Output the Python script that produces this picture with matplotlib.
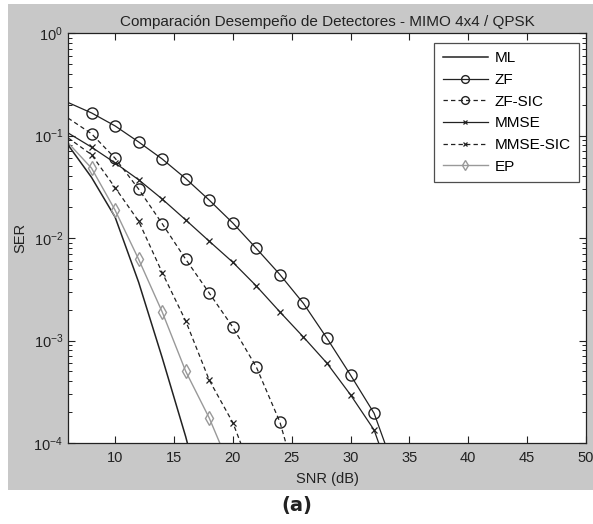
import matplotlib
matplotlib.use("Agg")
import matplotlib.pyplot as plt
from matplotlib.patches import Rectangle
from matplotlib.ticker import LogLocator, FixedLocator, NullFormatter

plt.rcParams['font.family'] = ['Liberation Sans', 'DejaVu Sans']
plt.rcParams['mathtext.fontset'] = 'custom'
plt.rcParams['mathtext.rm'] = 'Liberation Sans'
plt.rcParams['mathtext.default'] = 'regular'

# SNR (dB)
snr_ml = [6, 8, 10, 12, 14, 16, 18]
ser_ml = [0.081, 0.039, 0.016, 0.0037, 0.00068, 0.000115, 1.5e-5]

snr_zf = [6, 8, 10, 12, 14, 16, 18, 20, 22, 24, 26, 28, 30, 32, 34]
ser_zf = [0.21, 0.166, 0.124, 0.0865, 0.059, 0.038, 0.0234, 0.014, 0.0079,
          0.0044, 0.0023, 0.00105, 0.00046, 0.000195, 4.5e-5]

snr_zfsic = [6, 8, 10, 12, 14, 16, 18, 20, 22, 24, 26]
ser_zfsic = [0.148, 0.104, 0.06, 0.030, 0.0138, 0.0062, 0.0029, 0.00135,
             0.00055, 0.00016, 2.5e-5]

snr_mmse = [6, 8, 10, 12, 14, 16, 18, 20, 22, 24, 26, 28, 30, 32, 34]
ser_mmse = [0.106, 0.077, 0.054, 0.037, 0.024, 0.015, 0.0093, 0.0058, 0.0034,
            0.0019, 0.00108, 0.0006, 0.000295, 0.000134, 3e-5]

snr_mmsesic = [6, 8, 10, 12, 14, 16, 18, 20, 22]
ser_mmsesic = [0.095, 0.065, 0.031, 0.0146, 0.0046, 0.00155, 0.00041,
               0.000158, 4e-5]

snr_ep = [6, 8, 10, 12, 14, 16, 18, 20]
ser_ep = [0.085, 0.048, 0.0187, 0.0062, 0.0019, 0.0005, 0.000175, 5e-5]

labels = ['ML', 'ZF', 'ZF-SIC', 'MMSE', 'MMSE-SIC', 'EP']
title = 'Comparación Desempeño de Detectores - MIMO 4x4 / QPSK'
x_ticks = [10, 15, 20, 25, 30, 35, 40, 45, 50]

fig = plt.figure(figsize=(5.93, 5.24), dpi=100)
fig.patch.set_facecolor('white')
bg = Rectangle((8 / 593, (524 - 490) / 524), 1 - 8 / 593, (490 - 4) / 524,
               transform=fig.transFigure, facecolor='#c8c8c8', edgecolor='none', zorder=-10)
fig.add_artist(bg)

ax = fig.add_axes([68 / 593, (524 - 443) / 524, (586 - 68) / 593, (443 - 33) / 524])
ax.set_zorder(5)
ax.set_facecolor('white')

dash = (0, (3.5, 2.5))
dk = '#222222'
ax.plot(snr_ml, ser_ml, '-', color=dk, lw=1.1, label=labels[0])
ax.plot(snr_zf, ser_zf, '-', color=dk, lw=0.9, marker='o', ms=8, mfc='none', mec=dk, mew=1.0,
        markevery=slice(1, None), label=labels[1])
ax.plot(snr_zfsic, ser_zfsic, linestyle=dash, color=dk, lw=0.9, marker='o', ms=8, mfc='none', mec=dk,
        mew=1.0, markevery=slice(1, None), label=labels[2])
ax.plot(snr_mmse, ser_mmse, '-', color=dk, lw=0.9, marker='x', ms=5, mec=dk, mew=0.9,
        markevery=slice(1, None), label=labels[3])
ax.plot(snr_mmsesic, ser_mmsesic, linestyle=dash, color=dk, lw=0.9, marker='x', ms=5, mec=dk, mew=0.9,
        markevery=slice(1, None), label=labels[4])
ax.plot(snr_ep, ser_ep, '-', color='#999999', lw=1.0, marker='d', ms=7, mfc='none', mec='#999999', mew=1.0,
        markevery=slice(1, None), label=labels[5])

ax.set_yscale('log')
ax.set_xlim(6, 50)
ax.set_ylim(1e-4, 1)
ax.xaxis.set_major_locator(FixedLocator(x_ticks))
ax.yaxis.set_major_locator(LogLocator(base=10, numticks=10))
ax.yaxis.set_minor_locator(LogLocator(base=10, subs=range(2, 10), numticks=20))
ax.yaxis.set_minor_formatter(NullFormatter())
ax.tick_params(which='both', direction='in', top=True, right=True, labelsize=10.5, colors='#222222')
ax.tick_params(which='major', length=5, width=0.8)
ax.tick_params(which='minor', length=3, width=0.7)
ax.tick_params(axis='x', pad=6)
for s in ax.spines.values():
    s.set_color('#222222')
    s.set_linewidth(0.9)

ax.set_title(title, fontsize=11, pad=5, color='#222222')
ax.set_xlabel('SNR (dB)', fontsize=10.5, labelpad=5, color='#222222')
ax.set_ylabel('SER', fontsize=10.5, labelpad=4, color='#222222')

leg = ax.legend(loc='upper right', bbox_to_anchor=(0.9865, 0.9756), fontsize=11, frameon=True,
                fancybox=False, edgecolor='#222222', labelspacing=0.5, handlelength=3.0,
                borderaxespad=0.0, handletextpad=0.4, borderpad=0.55, markerscale=0.7)
leg.get_frame().set_linewidth(0.9)

fig.text(0.5, (524 - 505) / 524, '(a)', ha='center', va='center', fontsize=14, fontweight='bold',
         family='DejaVu Sans', color='#222222')

fig.savefig('out.png', dpi=100, facecolor=fig.get_facecolor())
